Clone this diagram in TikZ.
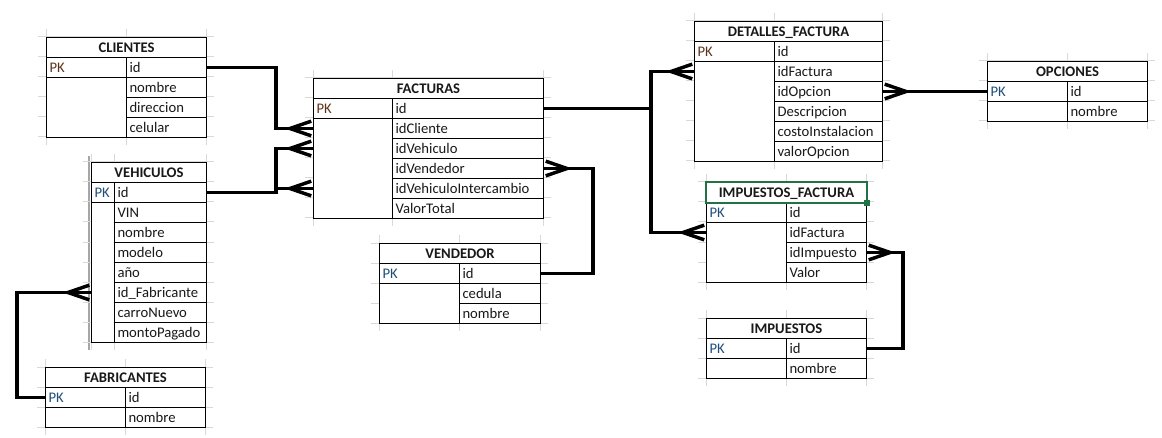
\documentclass[tikz,border=0pt]{standalone}
\usepackage{fontspec}
\setmainfont{Carlito}
\usepackage{tikz}
\usetikzlibrary{arrows.meta}
\definecolor{gridgray}{HTML}{D9D9D9}
\definecolor{edgegray}{HTML}{A6A6A6}
\definecolor{pkbrown}{HTML}{5C3317}
\definecolor{pkblue}{HTML}{1F4E79}
\definecolor{selgreen}{HTML}{217346}

% one table: prefix, x, y (top, px), key width, field width, PK colour, title, fields
\newcommand{\erdtable}[8]{%
  \foreach \f [count=\n] in {#8} {\xdef\erdn{\n}}%
  \pgfmathsetmacro\erdw{#4+#5}%
  \pgfmathtruncatemacro\erdm{\erdn+1}%
  \pgfmathsetmacro\erdb{#3+20*\erdm}%
  \pgfmathsetmacro\erdtt{\erdw*0.75-4.5}%
  \pgfmathsetmacro\erdtk{#4*0.75-4.5}%
  \pgfmathsetmacro\erdtf{#5*0.75-4.5}%
  \foreach \k in {0,...,\erdm} \draw[gridline] ({#2-8},{#3+20*\k}) -- ({#2+\erdw+8},{#3+20*\k});%
  \foreach \c in {0,#4,\erdw} \draw[gridline] ({#2+\c},{#3-8}) -- ({#2+\c},{\erdb+8});%
  \node[titlecell, text width=\erdtt pt] (#1-title) at (#2,#3) {#7};%
  \node[keycell, text width=\erdtk pt, text=#6] (#1-pk) at (#2,{#3+20}) {PK};%
  \node[keycell, text width=\erdtk pt, minimum height={15pt*(\erdn-1)}] (#1-keys) at (#2,{#3+40}) {};%
  \foreach \f [count=\i] in {#8}
    \node[fieldcell, text width=\erdtf pt] (#1-\i) at ({#2+#4},{#3+20*\i}) {\f};%
}

\begin{document}
\begin{tikzpicture}[
    x=0.75pt, y=-0.75pt,
    font=\fontsize{11}{13}\selectfont,
    gridline/.style={draw=gridgray, line width=0.75pt},
    cellbase/.style={draw, fill=white, line width=0.75pt, anchor=north west, inner xsep=2.25pt, inner ysep=0pt,
                     minimum height=15pt, text height=10.2pt, text depth=2pt, text=black!90},
    titlecell/.style={cellbase, align=center, font=\fontsize{11}{13}\selectfont\bfseries},
    keycell/.style={cellbase, align=left},
    fieldcell/.style={cellbase, align=left},
    rel/.style={line width=2.6pt},
    crow/.style={rel, postaction={draw, -{Straight Barb[reversed, length=16pt, width=11pt]}}}
]
  \fill[white] (0,0) rectangle (1162,438);
  \useasboundingbox (0,0) rectangle (1162,438);

  \draw[edgegray, line width=1.5pt] (89,156) -- (89,350);

  \erdtable{cli}{46}{37}{80}{80}{pkbrown}{CLIENTES}{id,nombre,direccion,celular}
  \erdtable{fac}{313}{78}{79}{151}{pkbrown}{FACTURAS}{id,idCliente,idVehiculo,idVendedor,idVehiculoIntercambio,ValorTotal}
  \erdtable{veh}{91}{162}{23}{92}{pkblue}{VEHICULOS}{id,VIN,nombre,modelo,año,id\_Fabricante,carroNuevo,montoPagado}
  \erdtable{fab}{45}{367}{80}{80}{pkblue}{FABRICANTES}{id,nombre}
  \erdtable{ven}{379}{243}{80}{81}{pkblue}{VENDEDOR}{id,cedula,nombre}
  \erdtable{det}{694}{21}{80}{108}{pkbrown}{DETALLES\_FACTURA}{id,idFactura,idOpcion,Descripcion,costoInstalacion,valorOpcion}
  \erdtable{opc}{987}{61}{80}{80}{pkblue}{OPCIONES}{id,nombre}
  \erdtable{imf}{706}{182}{80}{80}{pkblue}{IMPUESTOS\_FACTURA}{id,idFactura,idImpuesto,Valor}
  \erdtable{imp}{706}{318}{80}{80}{pkblue}{IMPUESTOS}{id,nombre}

  % selected cell
  \draw[selgreen, line width=1.5pt] (imf-title.north west) rectangle (imf-title.south east);
  \fill[selgreen] (imf-title.south east) ++(-3,-3) rectangle ++(6,6);

  % relations
  \coordinate (clibus) at (276,0);
  \coordinate (fabbus) at (17,0);
  \coordinate (facbus) at (651,0);
  \coordinate (venbus) at (593,0);
  \coordinate (impbus) at (903,0);

  \draw[crow] (cli-1.east) -| (clibus |- fac-2.west) -- (fac-keys.west |- fac-2.west);
  \draw[crow] (veh-1.east) -| (clibus |- fac-3.west) -- (fac-keys.west |- fac-3.west);
  \draw[crow] (clibus |- fac-5.west) -- (fac-keys.west |- fac-5.west);
  \draw[crow] (fab-pk.west) -| (fabbus |- veh-6.west) -- (veh-keys.west |- veh-6.west);
  \draw[crow] (fac-1.east) -| (facbus |- det-2.west) -- (det-keys.west |- det-2.west);
  \draw[crow] (facbus |- fac-1.east) |- (imf-keys.west |- imf-2.west);
  \draw[crow] (ven-1.east) -| (venbus |- fac-4.east) -- (fac-4.east);
  \draw[crow] (imp-1.east) -| (impbus |- imf-3.east) -- (imf-3.east);
  \draw[crow] (opc-pk.west) -- (det-3.east);
\end{tikzpicture}
\end{document}
